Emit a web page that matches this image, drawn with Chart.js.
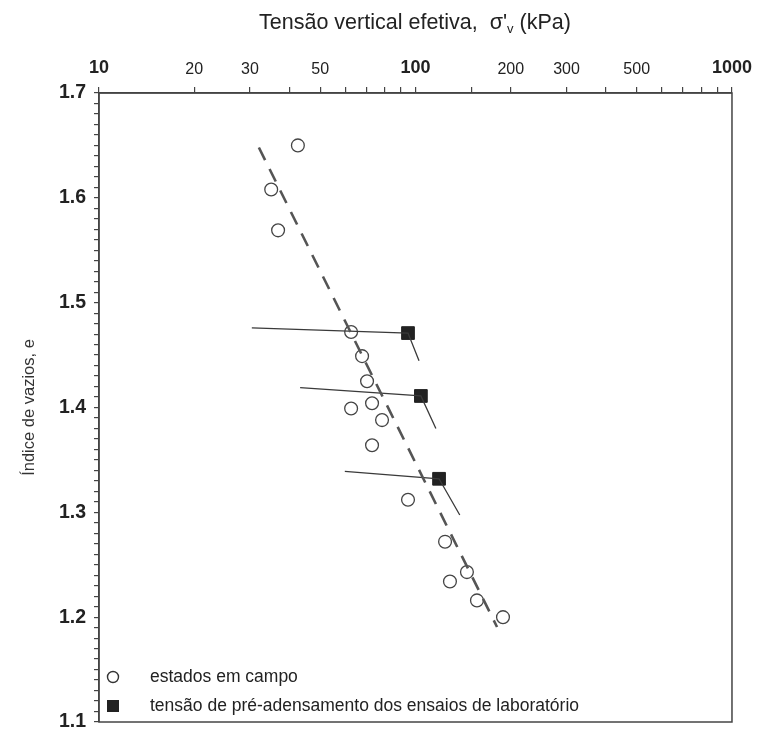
<!DOCTYPE html>
<html>
<head>
<meta charset="utf-8">
<script src="https://cdn.jsdelivr.net/npm/chart.js@4/dist/chart.umd.min.js"></script>
<style>
  html,body{margin:0;padding:0;background:#fff;}
  #wrap{width:760px;height:732px;position:relative;}
</style>
</head>
<body>
<div id="wrap"><canvas id="c" width="760" height="732"></canvas></div>
<script>
// estados em campo (tensão kPa, índice de vazios)
const fieldStress = [42.5, 35.0, 36.8, 62.6, 67.8, 70.3, 62.6, 72.9, 78.4, 72.9, 94.7, 124, 145.4, 128.5, 156.4, 189];
const fieldVoid   = [1.650, 1.608, 1.569, 1.472, 1.449, 1.425, 1.399, 1.404, 1.388, 1.364, 1.312, 1.272, 1.243, 1.234, 1.216, 1.200];

// tensão de pré-adensamento (ensaios de laboratório)
const labStress = [94.7, 104, 118.7];
const labVoid   = [1.471, 1.411, 1.332];
// ramos das curvas de laboratório
const labLeftStress  = [30.4, 43.2, 59.8];
const labLeftVoid    = [1.476, 1.419, 1.339];
const labRightStress = [102.6, 116, 138];
const labRightVoid   = [1.4445, 1.380, 1.2975];

// linha tracejada
const trendStress = [32, 181];
const trendVoid   = [1.648, 1.1906];

const xLabelTicks = [10, 20, 30, 50, 100, 200, 300, 500, 1000];
const xBoldTicks  = [10, 100, 1000];
const legendLabels = ['estados em campo', 'tensão de pré-adensamento dos ensaios de laboratório'];

const FONT = "'Liberation Sans', Arial, Helvetica, sans-serif";
const pts = (xs, ys) => xs.map((x, i) => ({x, y: ys[i]}));

const datasets = [
  { type:'line', data: pts(trendStress, trendVoid), borderColor:'#555', borderWidth:2.6,
    borderDash:[14,10], pointRadius:0, fill:false },
  ...labStress.map((s, i) => ({
    type:'line',
    data: [{x:labLeftStress[i], y:labLeftVoid[i]}, {x:s, y:labVoid[i]}, {x:labRightStress[i], y:labRightVoid[i]}],
    borderColor:'#3a3a3a', borderWidth:1.3, pointRadius:0, fill:false, tension:0
  })),
  { type:'scatter', data: pts(fieldStress, fieldVoid), pointStyle:'circle', pointRadius:6.4,
    borderColor:'#444', borderWidth:1.3, backgroundColor:'rgba(0,0,0,0)' },
  { type:'scatter', data: pts(labStress, labVoid), pointStyle:'rect', pointRadius:9,
    borderColor:'#222', borderWidth:1, backgroundColor:'#222' }
];

const framePlugin = {
  id:'frame',
  afterDraw(chart){
    const {ctx, chartArea:a} = chart;
    ctx.save();
    ctx.strokeStyle = '#444';
    ctx.lineWidth = 1.5;
    ctx.strokeRect(a.left, a.top, a.right - a.left, a.bottom - a.top);

    // título superior com subscrito
    ctx.fillStyle = '#222';
    ctx.textBaseline = 'alphabetic';
    const f1 = '21.5px ' + FONT, f2 = '13px ' + FONT;
    const p1 = "Tensão vertical efetiva,  σ'", p2 = 'v', p3 = ' (kPa)';
    ctx.font = f1; const w1 = ctx.measureText(p1).width, w3 = ctx.measureText(p3).width;
    ctx.font = f2; const w2 = ctx.measureText(p2).width;
    let x = 415 - (w1 + w2 + w3) / 2;
    const y = 29;
    ctx.font = f1; ctx.fillText(p1, x, y); x += w1;
    ctx.font = f2; ctx.fillText(p2, x, y + 4); x += w2;
    ctx.font = f1; ctx.fillText(p3, x, y);

    // legenda
    const lx = a.left + 14;
    const ly = [a.bottom - 45, a.bottom - 16];
    ctx.strokeStyle = '#333'; ctx.lineWidth = 1.4;
    ctx.beginPath(); ctx.arc(lx, ly[0], 5.5, 0, Math.PI * 2); ctx.stroke();
    ctx.fillStyle = '#222';
    ctx.fillRect(lx - 6, ly[1] - 6, 12, 12);
    ctx.font = '17.5px ' + FONT;
    ctx.textBaseline = 'middle';
    ctx.fillText(legendLabels[0], lx + 37, ly[0]);
    ctx.fillText(legendLabels[1], lx + 37, ly[1]);
    ctx.restore();
  }
};

new Chart(document.getElementById('c'), {
  type:'scatter',
  data:{ datasets },
  options:{
    responsive:false,
    animation:false,
    layout:{ padding:{ left:20, right:28, top:0, bottom:0 } },
    plugins:{ legend:{display:false}, tooltip:{enabled:false} },
    scales:{
      x:{
        type:'logarithmic', position:'top', min:10, max:1000,
        afterFit(s){ s.height = 93; },
        border:{ color:'#444', width:1.5 },
        grid:{ drawOnChartArea:false, tickLength:6, color:'#444', lineWidth:1.2 },
        ticks:{
          autoSkip:false, maxRotation:0, padding:8, color:'#222',
          font: ctx => xBoldTicks.includes(ctx.tick && ctx.tick.value)
            ? { family:FONT, size:18, weight:'bold' } : { family:FONT, size:16 },
          callback: v => xLabelTicks.includes(v) ? String(v) : ''
        }
      },
      y:{
        type:'linear', min:1.1, max:1.7,
        afterFit(s){ s.width = 79; s.paddingBottom = 10; s.paddingTop = 0; },
        border:{ color:'#444', width:1.5 },
        grid:{ drawOnChartArea:false, tickLength:5, color:'#444', lineWidth:1.2 },
        ticks:{
          stepSize:0.01, autoSkip:false, padding:8, color:'#222',
          font:{ family:FONT, size:19.5, weight:'bold' },
          callback: v => Math.abs(v * 10 - Math.round(v * 10)) < 1e-6 ? v.toFixed(1) : ''
        },
        title:{ display:true, text:'Índice de vazios, e', color:'#333',
          font:{ family:FONT, size:16.5 }, padding:{ top:0, bottom:4 } }
      }
    }
  },
  plugins:[framePlugin]
});
</script>
</body>
</html>
